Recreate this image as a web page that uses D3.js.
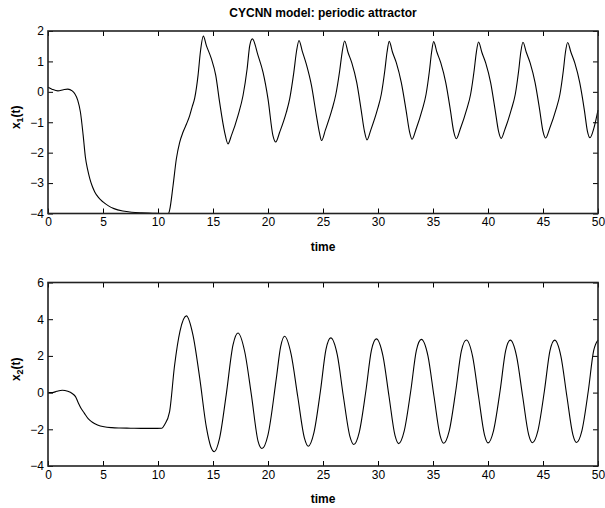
<!DOCTYPE html>
<html lang="en">
<head>
  <meta charset="UTF-8">
  <title>CYCNN model: periodic attractor</title>
  <script src="https://d3js.org/d3.v7.min.js"></script>
  <style>
    body { margin: 0; background: #fff; }
    svg { font-family: "Liberation Sans", Arial, sans-serif; }
    .axis text { font-size: 12px; fill: #000; }
    .axis line { stroke: #000; }
    .axis path { display: none; }
    .title, .xlabel, .ylabel { font-size: 12px; font-weight: bold; fill: #000; }
    .curve { fill: none; stroke: #000; stroke-width: 1.1; }
    .frame { fill: none; stroke: #222; stroke-width: 1.6; }
  </style>
</head>
<body>
<script>
  const titleText = "CYCNN model: periodic attractor";
  const xTicks = [0, 5, 10, 15, 20, 25, 30, 35, 40, 45, 50];
  const y1Ticks = [-4, -3, -2, -1, 0, 1, 2];
  const y2Ticks = [-4, -2, 0, 2, 4, 6];

  // x1(t)
  const t1 = [0, 0.4, 0.9, 1.4, 1.8, 2.2, 2.45, 2.7, 2.95, 3.2, 3.4, 3.6, 3.8, 4.0, 4.25, 4.6, 5.0, 5.5, 6.0, 6.8, 7.6, 8.5, 9.5, 10.5, 10.95,
    11.05, 11.37, 11.67, 11.97, 12.27, 12.6, 12.88, 13.1, 13.34, 13.64, 13.85, 14.12,
    14.4, 14.85, 15.25, 15.6, 16.06, 16.36,
    16.67, 17.27, 17.73, 18.1, 18.34, 18.58,
    19.1, 19.55, 20.0, 20.45, 20.7,
    21.06, 21.67, 21.97, 22.35, 22.6, 22.82,
    23.12, 23.49, 23.95, 24.4, 24.68, 24.87,
    25.22, 25.82, 26.17, 26.52, 26.74, 26.97,
    27.27, 27.62, 28.07, 28.47, 28.77, 29.0,
    29.35, 29.95, 30.3, 30.62, 30.82, 31.02,
    31.32, 31.67, 32.12, 32.55, 32.86, 33.1,
    33.45, 34.03, 34.37, 34.68, 34.87, 35.06,
    35.36, 35.71, 36.16, 36.58, 36.88, 37.12,
    37.47, 38.07, 38.42, 38.74, 38.94, 39.14,
    39.44, 39.79, 40.24, 40.65, 40.96, 41.2,
    41.55, 42.13, 42.48, 42.79, 42.98, 43.18,
    43.48, 43.83, 44.28, 44.7, 45.0, 45.25,
    45.6, 46.19, 46.54, 46.85, 47.04, 47.24,
    47.54, 47.89, 48.34, 48.76, 49.04, 49.27,
    49.62, 50.0];
  const x1 = [0.15, 0.08, 0.03, 0.07, 0.09, 0.03, -0.07, -0.27, -0.67, -1.44, -2.15, -2.55, -2.85, -3.08, -3.29, -3.48, -3.62, -3.75, -3.84, -3.92, -3.96, -3.98, -3.99, -4.0, -4.0,
    -3.9, -3.08, -2.2, -1.66, -1.33, -1.05, -0.78, -0.5, -0.2, 0.54, 1.3, 1.83,
    1.52, 1.09, 0.54, -0.34, -1.33, -1.71,
    -1.44, -0.78, -0.12, 0.75, 1.52, 1.74,
    1.19, 0.64, -0.23, -1.44, -1.65,
    -1.33, -0.67, -0.23, 0.65, 1.35, 1.69,
    1.33, 0.9, 0.21, -0.78, -1.35, -1.6,
    -1.25, -0.58, -0.08, 0.7, 1.3, 1.67,
    1.3, 0.95, 0.3, -0.6, -1.3, -1.58,
    -1.25, -0.58, -0.08, 0.7, 1.3, 1.66,
    1.3, 0.95, 0.3, -0.6, -1.3, -1.56,
    -1.24, -0.58, -0.08, 0.7, 1.3, 1.65,
    1.3, 0.95, 0.3, -0.6, -1.3, -1.54,
    -1.23, -0.57, -0.08, 0.7, 1.3, 1.64,
    1.3, 0.95, 0.3, -0.6, -1.3, -1.53,
    -1.22, -0.57, -0.08, 0.7, 1.3, 1.63,
    1.3, 0.95, 0.3, -0.6, -1.3, -1.52,
    -1.21, -0.57, -0.08, 0.7, 1.3, 1.62,
    1.3, 0.95, 0.3, -0.6, -1.3, -1.51,
    -1.2, -0.6];

  // x2(t)
  const t2 = [0, 0.4, 0.8, 1.3, 1.8, 2.2, 2.5, 2.75, 3.0, 3.3, 3.65, 4.0, 4.5, 5.1, 5.8, 6.5, 7.5, 8.5, 9.5, 10.35, 10.6, 11.05, 11.5, 12.0, 12.58,
    13.18, 13.79, 14.4, 14.8, 15.12, 15.6, 16.2, 16.82, 17.27, 17.88, 18.49, 19.1, 19.45, 20.0, 20.76, 21.15, 21.5,
    22.1, 22.7, 23.3, 23.67, 24.17, 24.77, 25.27, 25.7,
    26.3, 26.85, 27.45, 27.8, 28.3, 28.9, 29.4, 29.85,
    30.45, 31.0, 31.55, 31.88, 32.38, 32.98, 33.49, 33.94,
    34.54, 35.09, 35.64, 35.97, 36.47, 37.07, 37.58, 38.03,
    38.6, 39.14, 39.68, 40.0, 40.5, 41.1, 41.6, 42.03,
    42.6, 43.15, 43.7, 44.04, 44.54, 45.13, 45.63, 46.06,
    46.63, 47.17, 47.72, 48.04, 48.54, 49.12, 49.6, 50.0];
  const x2 = [0.0, 0.0, 0.07, 0.13, 0.07, -0.05, -0.22, -0.55, -0.85, -1.12, -1.42, -1.6, -1.76, -1.86, -1.91, -1.93, -1.94, -1.95, -1.95, -1.94, -1.75, -1.05, 1.45, 3.35, 4.18,
    3.13, 0.8, -1.9, -2.95, -3.22, -2.48, -0.12, 2.6, 3.25, 2.24, -0.12, -2.66, -3.05, -2.3, 0.79, 2.5, 3.07,
    2.1, -0.2, -2.45, -2.92, -2.2, 0.1, 2.35, 2.98,
    2.05, -0.2, -2.4, -2.83, -2.15, 0.1, 2.3, 2.93,
    2.0, -0.2, -2.35, -2.78, -2.1, 0.1, 2.3, 2.9,
    2.0, -0.2, -2.33, -2.76, -2.1, 0.1, 2.28, 2.87,
    1.98, -0.2, -2.3, -2.74, -2.08, 0.1, 2.27, 2.86,
    1.98, -0.2, -2.3, -2.73, -2.07, 0.1, 2.27, 2.86,
    1.98, -0.2, -2.3, -2.72, -2.07, 0.1, 2.27, 2.86];

  const width = 605, height = 508;
  const left = 48, right = 598;

  const svg = d3.select("body").append("svg")
    .attr("width", width)
    .attr("height", height);

  svg.append("text")
    .attr("class", "title")
    .attr("x", (left + right) / 2)
    .attr("y", 17)
    .attr("text-anchor", "middle")
    .text(titleText);

  const xScale = d3.scaleLinear().domain([0, 50]).range([left, right]);

  function panel(top, bottom, yDomain, yTicks, ts, xs, sub) {
    const yScale = d3.scaleLinear().domain(yDomain).range([bottom, top]);
    const g = svg.append("g");
    const fmt = d => String(d).replace("-", "\u2212");

    g.append("g").attr("class", "axis")
      .attr("transform", `translate(0,${bottom})`)
      .call(d3.axisBottom(xScale).tickValues(xTicks).tickFormat(fmt)
        .tickSizeInner(-5).tickSizeOuter(0).tickPadding(4));
    g.append("g").attr("class", "axis")
      .attr("transform", `translate(0,${top})`)
      .call(d3.axisTop(xScale).tickValues(xTicks).tickFormat("")
        .tickSizeInner(-5).tickSizeOuter(0));
    g.append("g").attr("class", "axis")
      .attr("transform", `translate(${left},0)`)
      .call(d3.axisLeft(yScale).tickValues(yTicks).tickFormat(fmt)
        .tickSizeInner(-5).tickSizeOuter(0).tickPadding(4));
    g.append("g").attr("class", "axis")
      .attr("transform", `translate(${right},0)`)
      .call(d3.axisRight(yScale).tickValues(yTicks).tickFormat("")
        .tickSizeInner(-5).tickSizeOuter(0));

    const line = d3.line()
      .x((d, i) => xScale(ts[i]))
      .y(d => yScale(d))
      .curve(d3.curveMonotoneX);

    g.append("path")
      .datum(xs)
      .attr("class", "curve")
      .attr("d", line);

    g.append("rect")
      .attr("class", "frame")
      .attr("x", left).attr("y", top)
      .attr("width", right - left).attr("height", bottom - top);

    g.append("text")
      .attr("class", "xlabel")
      .attr("x", (left + right) / 2)
      .attr("y", bottom + 37)
      .attr("text-anchor", "middle")
      .text("time");

    const yl = g.append("text")
      .attr("class", "ylabel")
      .attr("text-anchor", "middle")
      .attr("transform", `translate(20,${(top + bottom) / 2 - 5}) rotate(-90)`);
    yl.append("tspan").text("x");
    yl.append("tspan").attr("dy", 3).attr("font-size", "9px").text(sub);
    yl.append("tspan").attr("dy", -3).text("(t)");
  }

  panel(31, 213.5, [-4, 2], y1Ticks, t1, x1, "1");
  panel(282.5, 466, [-4, 6], y2Ticks, t2, x2, "2");
</script>
</body>
</html>
